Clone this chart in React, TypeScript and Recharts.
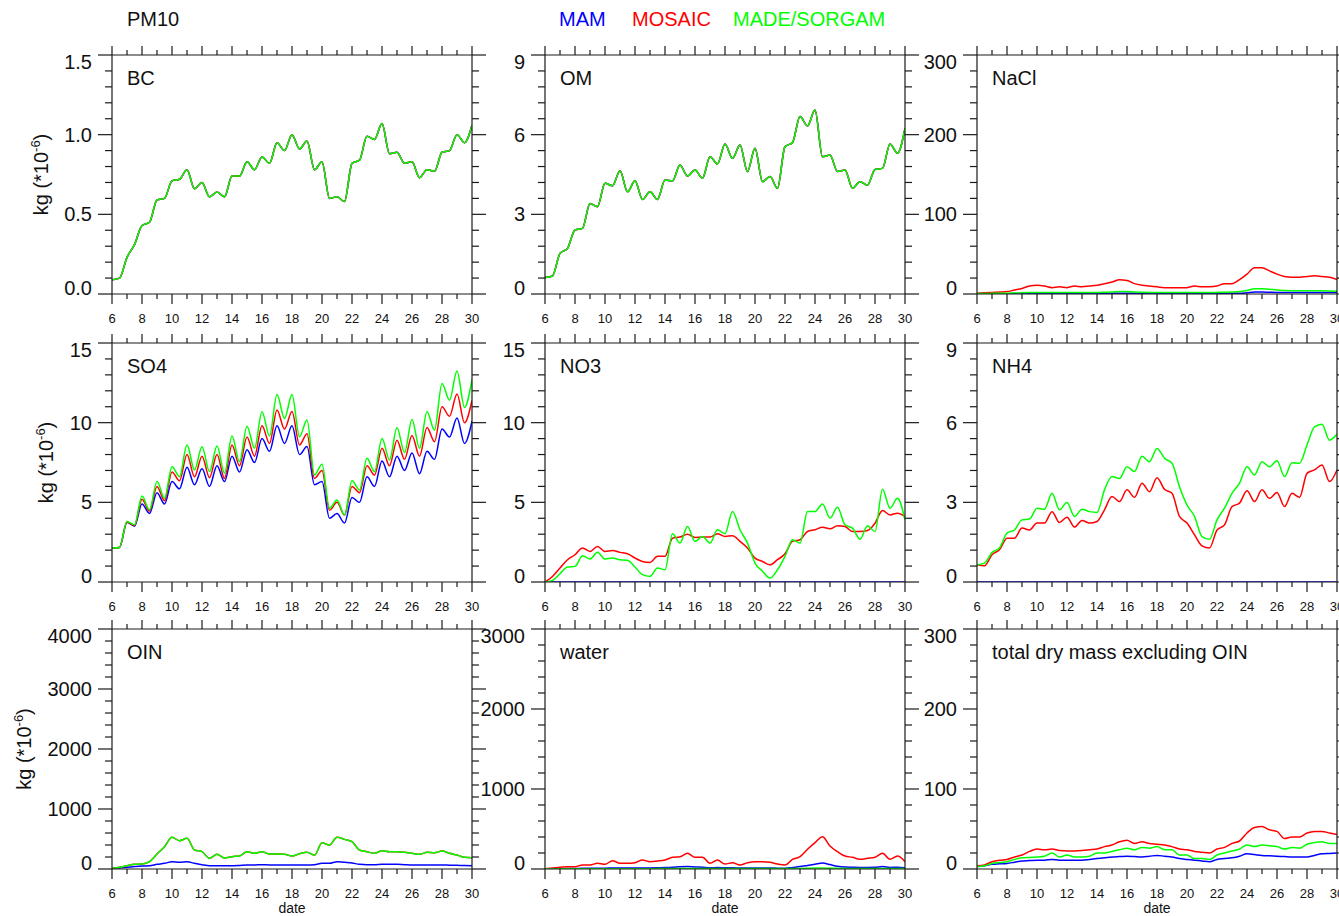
import React from 'react';
import { LineChart, Line, XAxis, YAxis } from 'recharts';

const FONT = '"Liberation Sans", Arial, Helvetica, sans-serif';
const AXIS = '#1a1a1a';
const BLUE = '#0000ff';
const RED = '#ff0000';
const GREEN = '#00ff00';

// categories: date (day of month)
const dates = [6, 6.5, 7, 7.5, 8, 8.5, 9, 9.5, 10, 10.5, 11, 11.5, 12, 12.5, 13, 13.5, 14, 14.5, 15, 15.5, 16, 16.5, 17, 17.5, 18, 18.5, 19, 19.5, 20, 20.5, 21, 21.5, 22, 22.5, 23, 23.5, 24, 24.5, 25, 25.5, 26, 26.5, 27, 27.5, 28, 28.5, 29, 29.5, 30];
const xTicks = [6, 7, 8, 9, 10, 11, 12, 13, 14, 15, 16, 17, 18, 19, 20, 21, 22, 23, 24, 25, 26, 27, 28, 29, 30];

// tick labels
const bcTicks = [0, 0.5, 1.0, 1.5];
const omTicks = [0, 3, 6, 9];
const naclTicks = [0, 100, 200, 300];
const so4Ticks = [0, 5, 10, 15];
const no3Ticks = [0, 5, 10, 15];
const nh4Ticks = [0, 3, 6, 9];
const oinTicks = [0, 1000, 2000, 3000, 4000];
const waterTicks = [0, 1000, 2000, 3000];
const totalTicks = [0, 100, 200, 300];

// BC
const bcMade = [0.09, 0.10, 0.23, 0.31, 0.43, 0.45, 0.59, 0.60, 0.71, 0.72, 0.78, 0.66, 0.70, 0.61, 0.64, 0.61, 0.74, 0.74, 0.83, 0.78, 0.86, 0.82, 0.95, 0.90, 1.00, 0.91, 0.96, 0.78, 0.83, 0.60, 0.61, 0.58, 0.82, 0.84, 0.99, 0.97, 1.07, 0.88, 0.89, 0.82, 0.83, 0.73, 0.78, 0.77, 0.89, 0.90, 1.00, 0.95, 1.06];
const bcMosaic = [0.09, 0.10, 0.23, 0.31, 0.43, 0.45, 0.59, 0.60, 0.71, 0.72, 0.78, 0.66, 0.70, 0.61, 0.64, 0.61, 0.74, 0.74, 0.83, 0.78, 0.86, 0.82, 0.95, 0.90, 1.00, 0.91, 0.96, 0.78, 0.83, 0.60, 0.61, 0.58, 0.82, 0.84, 0.99, 0.97, 1.07, 0.88, 0.89, 0.82, 0.83, 0.73, 0.78, 0.77, 0.89, 0.90, 1.00, 0.95, 1.06];
const bcMam = [0.09, 0.10, 0.23, 0.31, 0.43, 0.45, 0.59, 0.60, 0.71, 0.72, 0.78, 0.66, 0.70, 0.61, 0.64, 0.61, 0.74, 0.74, 0.83, 0.78, 0.86, 0.82, 0.95, 0.90, 1.00, 0.91, 0.96, 0.78, 0.83, 0.60, 0.61, 0.58, 0.82, 0.84, 0.99, 0.97, 1.07, 0.88, 0.89, 0.82, 0.83, 0.73, 0.78, 0.77, 0.89, 0.90, 1.00, 0.95, 1.06];

// OM
const omMade = [0.62, 0.68, 1.53, 1.72, 2.41, 2.47, 3.41, 3.29, 4.17, 4.08, 4.64, 3.85, 4.26, 3.56, 3.85, 3.56, 4.29, 4.26, 4.86, 4.44, 4.67, 4.36, 5.17, 4.90, 5.65, 5.11, 5.61, 4.61, 5.49, 4.23, 4.42, 3.98, 5.55, 5.70, 6.68, 6.33, 6.93, 5.17, 5.23, 4.61, 4.67, 3.98, 4.23, 4.10, 4.69, 4.73, 5.65, 5.30, 6.24];
const omMosaic = [0.62, 0.68, 1.53, 1.72, 2.41, 2.47, 3.41, 3.29, 4.17, 4.08, 4.64, 3.85, 4.26, 3.56, 3.85, 3.56, 4.29, 4.26, 4.86, 4.44, 4.67, 4.36, 5.17, 4.90, 5.65, 5.11, 5.61, 4.61, 5.49, 4.23, 4.42, 3.98, 5.55, 5.70, 6.68, 6.33, 6.93, 5.17, 5.23, 4.61, 4.67, 3.98, 4.23, 4.10, 4.69, 4.73, 5.65, 5.30, 6.24];
const omMam = [0.62, 0.68, 1.53, 1.72, 2.41, 2.47, 3.41, 3.29, 4.17, 4.08, 4.64, 3.85, 4.26, 3.56, 3.85, 3.56, 4.29, 4.26, 4.86, 4.44, 4.67, 4.36, 5.17, 4.90, 5.65, 5.11, 5.61, 4.61, 5.49, 4.23, 4.42, 3.98, 5.55, 5.70, 6.68, 6.33, 6.93, 5.17, 5.23, 4.61, 4.67, 3.98, 4.23, 4.10, 4.69, 4.73, 5.65, 5.30, 6.24];

// NaCl
const naclMosaic = [1, 1.5, 2, 2.5, 3, 5, 7, 10, 11, 10, 8, 9, 8, 10, 9, 10, 11, 13, 15, 18, 17, 13, 11, 10, 9, 8, 8, 8, 8, 10, 9, 9, 10, 13, 13, 18, 25, 33, 33, 29, 25, 22, 21, 21, 22, 23, 22, 21, 18];
const naclMade = [0.5, 0.6, 0.8, 1, 1, 1.2, 1.5, 1.8, 2, 2, 1.8, 1.8, 1.8, 1.8, 1.8, 2, 2, 2.2, 2.5, 3, 3, 2.5, 2.2, 2, 2, 1.8, 1.8, 1.8, 1.8, 1.8, 1.8, 1.8, 2, 2.2, 2.5, 3, 4.5, 6.5, 6.5, 6, 5, 4.5, 4.2, 4, 4, 4, 4, 3.8, 3.5];
const naclMam = [0.2, 0.3, 0.3, 0.4, 0.4, 0.5, 0.5, 0.6, 0.6, 0.6, 0.6, 0.6, 0.6, 0.6, 0.6, 0.6, 0.7, 0.7, 0.8, 0.9, 0.9, 0.8, 0.7, 0.7, 0.7, 0.7, 0.7, 0.7, 0.7, 0.7, 0.7, 0.7, 0.7, 0.7, 0.8, 0.8, 1.5, 2.5, 2.5, 2.2, 2, 2, 2, 2, 2, 2, 2, 1.9, 1.8];

// SO4
const so4Made = [2.13, 2.17, 3.80, 3.59, 5.40, 4.53, 6.30, 5.26, 7.24, 6.61, 8.60, 7.03, 8.49, 6.93, 8.53, 6.82, 9.16, 7.55, 9.78, 8.39, 10.68, 9.16, 11.77, 10.26, 11.77, 9.12, 10.16, 6.72, 7.39, 4.63, 5.15, 4.21, 6.36, 5.78, 7.76, 6.93, 9.01, 7.66, 9.68, 8.12, 10.20, 8.39, 10.68, 9.53, 12.46, 11.41, 13.25, 10.95, 12.71];
const so4Mosaic = [2.13, 2.17, 3.75, 3.55, 5.20, 4.45, 6.00, 5.10, 6.90, 6.35, 8.00, 6.60, 7.90, 6.55, 8.00, 6.50, 8.60, 7.30, 9.10, 7.90, 9.80, 8.70, 10.80, 9.60, 10.70, 8.60, 9.30, 6.50, 7.00, 4.50, 5.00, 4.20, 6.00, 5.60, 7.30, 6.70, 8.40, 7.30, 8.90, 7.70, 9.20, 7.90, 9.70, 8.80, 11.00, 10.40, 11.80, 10.00, 11.40];
const so4Mam = [2.13, 2.17, 3.75, 3.50, 4.90, 4.30, 5.60, 4.90, 6.30, 5.85, 7.20, 6.10, 7.10, 6.00, 7.30, 6.30, 7.90, 6.90, 8.30, 7.50, 9.00, 8.20, 9.80, 8.70, 9.80, 8.00, 8.50, 6.10, 6.30, 4.00, 4.30, 3.70, 5.30, 5.00, 6.60, 6.00, 7.60, 6.60, 7.90, 7.00, 8.10, 6.80, 8.20, 7.70, 9.60, 9.10, 10.30, 8.70, 10.10];

// NO3
const no3Made = [0, 0.1, 0.52, 0.94, 0.98, 1.65, 1.44, 1.86, 1.44, 1.50, 1.40, 1.36, 0.94, 0.46, 0.35, 0.88, 0.77, 3.03, 2.44, 3.48, 2.55, 2.86, 2.44, 3.28, 3.03, 4.42, 3.28, 2.44, 1.19, 0.67, 0.25, 0.77, 1.61, 2.65, 2.44, 4.42, 4.42, 4.90, 4.01, 4.69, 3.59, 3.38, 2.69, 3.53, 3.17, 5.82, 4.63, 5.26, 3.90];
const no3Mosaic = [0, 0.35, 0.88, 1.40, 1.71, 2.13, 1.92, 2.23, 1.92, 1.98, 1.86, 1.77, 1.50, 1.29, 1.23, 1.61, 1.61, 2.75, 2.82, 3.00, 2.80, 2.82, 2.82, 3.03, 2.86, 2.90, 2.55, 2.13, 1.50, 1.29, 1.08, 1.40, 1.77, 2.55, 2.65, 3.17, 3.28, 3.44, 3.34, 3.53, 3.48, 3.17, 3.17, 3.23, 3.69, 4.49, 4.21, 4.32, 4.11];
const no3Mam = [0, 0, 0, 0, 0, 0, 0, 0, 0, 0, 0, 0, 0, 0, 0, 0, 0, 0, 0, 0, 0, 0, 0, 0, 0, 0, 0, 0, 0, 0, 0, 0, 0, 0, 0, 0, 0, 0, 0, 0, 0, 0, 0, 0, 0, 0, 0, 0, 0];

// NH4
const nh4Made = [0.65, 0.71, 1.11, 1.28, 1.84, 1.96, 2.34, 2.37, 2.78, 2.74, 3.34, 2.72, 2.99, 2.47, 2.74, 2.65, 2.62, 3.47, 3.97, 3.90, 4.34, 4.16, 4.74, 4.53, 5.03, 4.66, 4.47, 3.59, 2.90, 2.47, 1.71, 1.61, 2.34, 2.78, 3.34, 3.72, 4.34, 4.03, 4.53, 4.34, 4.57, 3.97, 4.49, 4.47, 5.16, 5.84, 5.94, 5.34, 5.57];
const nh4Mosaic = [0.65, 0.61, 1.03, 1.21, 1.65, 1.65, 2.03, 1.96, 2.22, 2.22, 2.65, 2.24, 2.44, 2.07, 2.32, 2.22, 2.28, 2.72, 3.22, 3.03, 3.47, 3.19, 3.72, 3.40, 3.93, 3.49, 3.34, 2.47, 2.22, 1.78, 1.36, 1.28, 1.96, 2.15, 2.84, 2.97, 3.44, 3.03, 3.47, 3.15, 3.37, 2.84, 3.34, 3.19, 4.09, 4.22, 4.41, 3.78, 4.22];
const nh4Mam = [0, 0, 0, 0, 0, 0, 0, 0, 0, 0, 0, 0, 0, 0, 0, 0, 0, 0, 0, 0, 0, 0, 0, 0, 0, 0, 0, 0, 0, 0, 0, 0, 0, 0, 0, 0, 0, 0, 0, 0, 0, 0, 0, 0, 0, 0, 0, 0, 0];

// OIN
const oinMade = [10, 28, 55, 78, 83, 122, 250, 372, 528, 472, 511, 317, 289, 178, 244, 183, 206, 217, 289, 261, 289, 250, 250, 244, 217, 255, 280, 230, 439, 400, 528, 494, 456, 317, 289, 261, 306, 289, 289, 278, 261, 244, 278, 272, 300, 261, 233, 194, 189];
const oinMosaic = [10, 28, 55, 78, 83, 122, 250, 372, 528, 472, 511, 317, 289, 178, 244, 183, 206, 217, 289, 261, 289, 250, 250, 244, 217, 255, 280, 230, 439, 400, 528, 494, 456, 317, 289, 261, 306, 289, 289, 278, 261, 244, 278, 272, 300, 261, 233, 194, 189];
const oinMam = [10, 18, 28, 40, 50, 55, 78, 94, 122, 111, 122, 94, 72, 55, 55, 55, 55, 60, 67, 67, 72, 67, 67, 67, 67, 67, 67, 70, 94, 94, 122, 111, 100, 78, 72, 72, 78, 78, 78, 72, 67, 67, 67, 67, 67, 64, 61, 58, 55];

// water
const waterMosaic = [4, 12, 21, 29, 29, 50, 50, 71, 58, 104, 71, 71, 79, 112, 92, 100, 112, 146, 154, 196, 146, 146, 71, 112, 62, 79, 50, 79, 92, 92, 83, 62, 50, 121, 154, 246, 329, 404, 287, 217, 162, 146, 121, 133, 146, 196, 121, 162, 92];
const waterMam = [2, 3, 4, 5, 6, 8, 8, 10, 10, 12, 12, 12, 12, 14, 14, 15, 18, 22, 28, 30, 25, 22, 15, 18, 15, 15, 12, 12, 12, 12, 12, 10, 10, 20, 30, 45, 60, 75, 55, 35, 25, 22, 20, 20, 22, 30, 20, 22, 15];
const waterMade = [1, 1, 2, 2, 3, 3, 3, 4, 4, 4, 4, 4, 4, 4, 4, 5, 5, 5, 6, 6, 6, 5, 5, 5, 5, 5, 5, 5, 5, 5, 5, 5, 5, 6, 7, 9, 11, 12, 10, 8, 7, 6, 6, 6, 6, 7, 6, 6, 5];

// total dry mass excluding OIN
const totalMosaic = [4, 5, 9, 11, 12, 15, 17.5, 22, 25, 24, 25, 23, 22.5, 22.5, 23, 24, 25, 28, 30, 34, 36, 32, 34, 32, 31, 30, 28, 25, 24, 22, 21, 20, 25, 27, 32, 35, 45, 52, 53, 49, 47, 38, 40, 40, 45, 47, 47, 45, 43];
const totalMade = [3, 4, 7, 8, 9, 12, 14, 14.5, 15, 16, 20, 15, 17.5, 15, 15, 16, 20, 20, 22, 24, 26, 24, 27, 26, 28, 24, 24, 17.5, 17.5, 13, 13, 12, 17.5, 20, 22.5, 25, 30, 28, 30, 29, 28, 25, 27, 26, 31, 33, 34, 32, 32];
const totalMam = [3, 4, 6, 6.5, 7, 8.5, 10, 10.5, 11, 11, 12, 11, 11, 11, 11, 12, 13, 14, 15, 15.5, 16, 15.5, 15, 16, 17, 16, 15, 13, 12, 11, 10, 9, 12, 13, 14, 16, 19, 18, 17, 16.5, 16, 15.5, 15, 15, 15, 17, 19, 19.5, 20];

type Panel = {
  title: string;
  left: number;
  top: number;
  h: number;
  ticks: number[];
  minor: number;
  dec: number;
  mam: number[];
  mosaic: number[];
  made: number[];
};

const panels: Panel[] = [
  { title: 'BC', left: 112, top: 55, h: 239, ticks: bcTicks, minor: 0.1, dec: 1, mam: bcMam, mosaic: bcMosaic, made: bcMade },
  { title: 'OM', left: 545, top: 55, h: 239, ticks: omTicks, minor: 0.6, dec: 0, mam: omMam, mosaic: omMosaic, made: omMade },
  { title: 'NaCl', left: 977, top: 55, h: 239, ticks: naclTicks, minor: 20, dec: 0, mam: naclMam, mosaic: naclMosaic, made: naclMade },
  { title: 'SO4', left: 112, top: 343, h: 239, ticks: so4Ticks, minor: 1, dec: 0, mam: so4Mam, mosaic: so4Mosaic, made: so4Made },
  { title: 'NO3', left: 545, top: 343, h: 239, ticks: no3Ticks, minor: 1, dec: 0, mam: no3Mam, mosaic: no3Mosaic, made: no3Made },
  { title: 'NH4', left: 977, top: 343, h: 239, ticks: nh4Ticks, minor: 0.6, dec: 0, mam: nh4Mam, mosaic: nh4Mosaic, made: nh4Made },
  { title: 'OIN', left: 112, top: 629, h: 240, ticks: oinTicks, minor: 200, dec: 0, mam: oinMam, mosaic: oinMosaic, made: oinMade },
  { title: 'water', left: 545, top: 629, h: 240, ticks: waterTicks, minor: 200, dec: 0, mam: waterMam, mosaic: waterMosaic, made: waterMade },
  { title: 'total dry mass excluding OIN', left: 977, top: 629, h: 240, ticks: totalTicks, minor: 20, dec: 0, mam: totalMam, mosaic: totalMosaic, made: totalMade },
];

const PW = 360;
const LW = 70;
const RW = 20;
const TH = 15;
const BH = 35;

function allYTicks(majors: number[], minor: number): number[] {
  const max = majors[majors.length - 1];
  const n = Math.round(max / minor);
  const out: number[] = [];
  for (let i = 0; i <= n; i++) out.push(+(i * minor).toFixed(6));
  return out;
}

function isMajorY(v: number, majors: number[]) {
  return majors.some((m) => Math.abs(m - v) < 1e-6);
}

function ChartPanel({ p }: { p: Panel }) {
  const data = dates.map((d, i) => ({ d, mam: p.mam[i], mosaic: p.mosaic[i], made: p.made[i] }));
  const ymax = p.ticks[p.ticks.length - 1];
  const yt = allYTicks(p.ticks, p.minor);

  const leftTick = (props: any) => {
    const { x, y, payload } = props;
    const v = payload.value;
    const major = isMajorY(v, p.ticks);
    const len = major ? 14 : 7;
    let dy = 7;
    if (major && Math.abs(v - ymax) < 1e-6) dy += 6.5;
    if (major && Math.abs(v) < 1e-6) dy -= 6.5;
    return (
      <g>
        <line x1={x} x2={x - len} y1={y} y2={y} stroke={AXIS} strokeWidth={1.2} />
        {major && (
          <text x={x - 20} y={y + dy} textAnchor="end" fontSize={20} fontFamily={FONT} fill="#111">
            {v.toFixed(p.dec)}
          </text>
        )}
      </g>
    );
  };
  const rightTick = (props: any) => {
    const { x, y, payload } = props;
    const major = isMajorY(payload.value, p.ticks);
    const len = major ? 14 : 7;
    return <line x1={x} x2={x + len} y1={y} y2={y} stroke={AXIS} strokeWidth={1.2} />;
  };
  const bottomTick = (props: any) => {
    const { x, y, payload } = props;
    const v = payload.value;
    const major = Math.round(v) % 2 === 0;
    const len = major ? 10 : 5;
    return (
      <g>
        <line x1={x} x2={x} y1={y} y2={y + len} stroke={AXIS} strokeWidth={1.2} />
        {major && (
          <text x={x} y={y + 29} textAnchor="middle" fontSize={13} fontFamily={FONT} fill="#111">
            {v}
          </text>
        )}
      </g>
    );
  };
  const topTick = (props: any) => {
    const { x, y, payload } = props;
    const major = Math.round(payload.value) % 2 === 0;
    const len = major ? 9 : 5;
    return <line x1={x} x2={x} y1={y} y2={y - len} stroke={AXIS} strokeWidth={1.2} />;
  };

  return (
    <div style={{ position: 'absolute', left: p.left - LW, top: p.top - TH }}>
      <LineChart width={LW + PW + RW} height={TH + p.h + BH} data={data} margin={{ top: 0, right: 0, bottom: 0, left: 0 }}>
        <XAxis xAxisId="b" dataKey="d" type="number" domain={[6, 30]} ticks={xTicks} interval={0} allowDataOverflow
          height={BH} tickSize={0} tickMargin={0} tickLine={false} axisLine={{ stroke: AXIS, strokeWidth: 1.2 }} tick={bottomTick} />
        <XAxis xAxisId="t" dataKey="d" orientation="top" type="number" domain={[6, 30]} ticks={xTicks} interval={0} allowDataOverflow
          height={TH} tickSize={0} tickMargin={0} tickLine={false} axisLine={{ stroke: AXIS, strokeWidth: 1.2 }} tick={topTick} />
        <YAxis yAxisId="l" type="number" domain={[0, ymax]} ticks={yt} interval={0} allowDataOverflow
          width={LW} tickSize={0} tickMargin={0} tickLine={false} axisLine={{ stroke: AXIS, strokeWidth: 1.2 }} tick={leftTick} />
        <YAxis yAxisId="r" orientation="right" type="number" domain={[0, ymax]} ticks={yt} interval={0} allowDataOverflow
          width={RW} tickSize={0} tickMargin={0} tickLine={false} axisLine={{ stroke: AXIS, strokeWidth: 1.2 }} tick={rightTick} />
        <Line xAxisId="b" yAxisId="l" type="monotone" dataKey="mam" stroke={BLUE} strokeWidth={1.5} dot={false} isAnimationActive={false} />
        <Line xAxisId="b" yAxisId="l" type="monotone" dataKey="mosaic" stroke={RED} strokeWidth={1.5} dot={false} isAnimationActive={false} />
        <Line xAxisId="b" yAxisId="l" type="monotone" dataKey="made" stroke={GREEN} strokeWidth={1.5} dot={false} isAnimationActive={false} />
      </LineChart>
    </div>
  );
}

const yLabelRows = [
  { x: 48, cy: 174.5 },
  { x: 53, cy: 462.5 },
  { x: 31, cy: 749 },
];

export default function App() {
  return (
    <div style={{ position: 'absolute', left: 0, top: 0, width: 1339, height: 916, overflow: 'hidden', background: '#fff', fontFamily: FONT }}>
      {panels.map((p) => (
        <ChartPanel key={p.title} p={p} />
      ))}
      <svg width={1339} height={916} style={{ position: 'absolute', left: 0, top: 0, pointerEvents: 'none' }}>
        <text x={127} y={26} fontSize={20} fontFamily={FONT} fill="#111">PM10</text>
        <text x={559} y={26} fontSize={20} fontFamily={FONT} fill={BLUE}>MAM</text>
        <text x={632} y={26} fontSize={20} fontFamily={FONT} fill={RED}>MOSAIC</text>
        <text x={733} y={26} fontSize={20} fontFamily={FONT} fill={GREEN}>MADE/SORGAM</text>
        {panels.map((p) => (
          <text key={'t' + p.title} x={p.left + 15} y={p.top + 30} fontSize={20} fontFamily={FONT} fill="#111">{p.title}</text>
        ))}
        {panels.slice(6).map((p) => (
          <text key={'d' + p.title} x={p.left + PW / 2} y={913} textAnchor="middle" fontSize={14} fontFamily={FONT} fill="#111">date</text>
        ))}
        {yLabelRows.map((r, i) => (
          <text key={'y' + i} transform={`translate(${r.x},${r.cy}) rotate(-90)`} textAnchor="middle" fontSize={20} fontFamily={FONT} fill="#111">
            kg (*10<tspan fontSize={13} dy={-8}>-6</tspan><tspan dy={8}>)</tspan>
          </text>
        ))}
      </svg>
    </div>
  );
}
